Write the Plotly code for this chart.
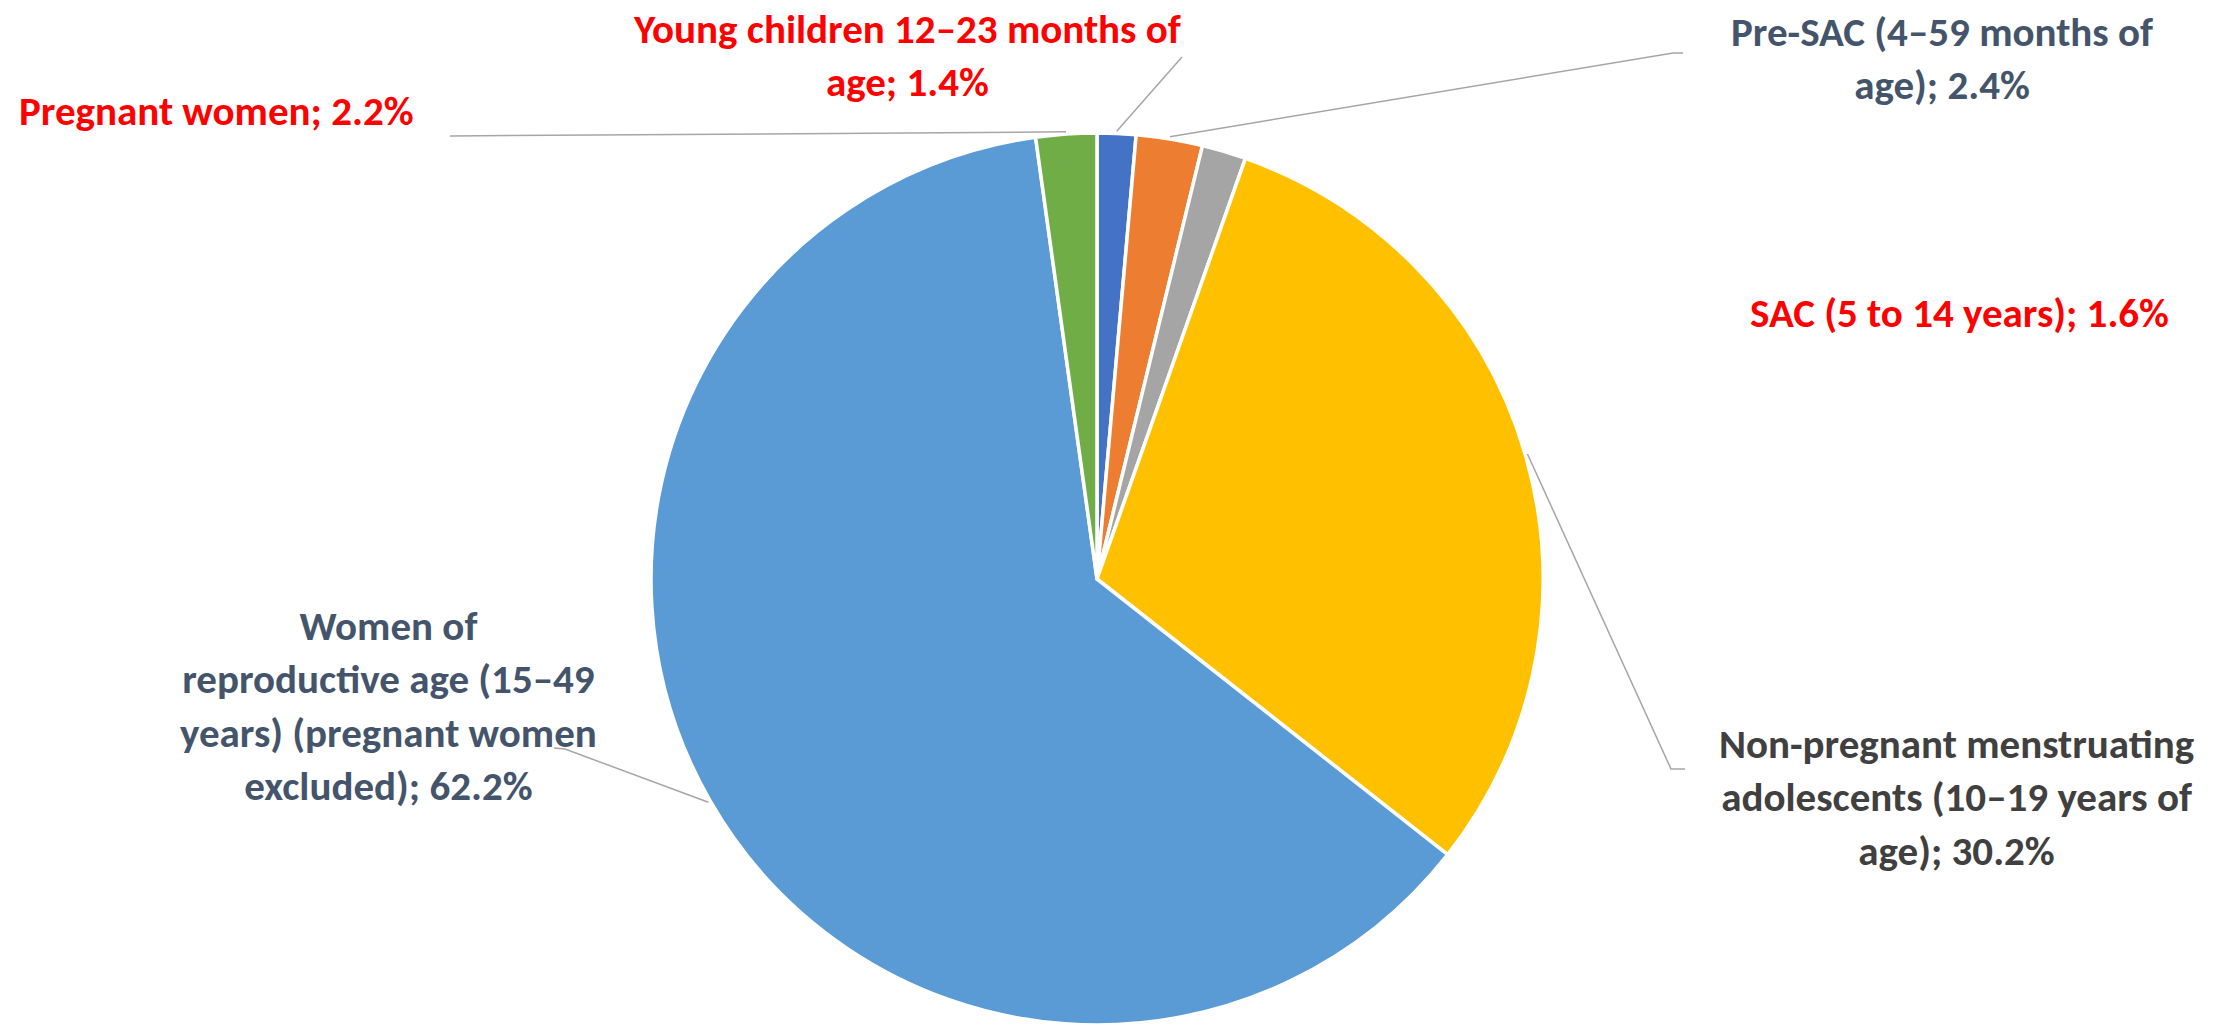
import math
import plotly.graph_objects as go

# ---- data ----
categories = [
    "Young children 12–23 months of age",
    "Pre-SAC (4–59 months of age)",
    "SAC (5 to 14 years)",
    "Non-pregnant menstruating adolescents (10–19 years of age)",
    "Women of reproductive age (15–49 years) (pregnant women excluded)",
    "Pregnant women",
]
values = [1.4, 2.4, 1.6, 30.2, 62.2, 2.2]
label_texts = [
    "Young children 12–23 months of<br>age; 1.4%",
    "Pre-SAC (4–59 months of<br>age); 2.4%",
    "SAC (5 to 14 years); 1.6%",
    "Non-pregnant menstruating<br>adolescents (10–19 years of<br>age); 30.2%",
    "Women of<br>reproductive age (15–49<br>years) (pregnant women<br>excluded); 62.2%",
    "Pregnant women; 2.2%",
]

# ---- styles / layout ----
W, H = 2233, 1025
slice_colors = ["#4472C4", "#ED7D31", "#A5A5A5", "#FFC000", "#5B9BD5", "#70AD47"]
label_colors = ["#FF0000", "#44546A", "#FF0000", "#404040", "#44546A", "#FF0000"]
FONT = "Carlito, Calibri, Lato, 'Open Sans', sans-serif"
FSIZE = 41

# pie placement (pixels)
cx, cy, R = 1097, 579, 446
# label centers (pixels)
label_pos = [(907, 55), (1942, 58), (1959, 313), (1956, 797), (388, 706), (216, 111)]
# leader line ends (pixels); None = no leader
leader_ends = [
    [(1182, 57)],
    [(1673, 53), (1683, 53)],
    None,
    [(1671, 769), (1685, 769)],
    [(565, 749), (554, 748)],
    [(450, 136)],
]

def px(x):
    return x / W

def py(y):
    return 1 - y / H

fig = go.Figure(
    go.Pie(
        labels=categories,
        values=values,
        sort=False,
        direction="clockwise",
        rotation=0,
        textinfo="none",
        hoverinfo="label+percent",
        marker=dict(colors=slice_colors, line=dict(color="white", width=3.5)),
        domain=dict(x=[px(cx - R), px(cx + R)], y=[py(cy + R), py(cy - R)]),
        showlegend=False,
    )
)

total = sum(values)
shapes = []
annotations = []
cum = 0.0
for i, v in enumerate(values):
    mid = (cum + v / 2) / total * 2 * math.pi
    cum += v
    ax = cx + R * 1.005 * math.sin(mid)
    ay = cy - R * 1.005 * math.cos(mid)
    if leader_ends[i]:
        pts = [(ax, ay)] + leader_ends[i]
        path = "M " + " L ".join(f"{px(x):.5f},{py(y):.5f}" for x, y in pts)
        shapes.append(dict(type="path", path=path, xref="paper", yref="paper",
                           line=dict(color="#A6A6A6", width=1.5)))
    lx, ly = label_pos[i]
    annotations.append(dict(
        x=px(lx), y=py(ly), xref="paper", yref="paper",
        text=f"<b>{label_texts[i]}</b>", showarrow=False,
        xanchor="center", yanchor="middle", align="center",
        font=dict(family=FONT, size=FSIZE, color=label_colors[i]),
    ))

fig.update_layout(
    width=W, height=H,
    margin=dict(l=0, r=0, t=0, b=0),
    paper_bgcolor="white", plot_bgcolor="white",
    shapes=shapes, annotations=annotations,
)

fig.write_html("out.html")
